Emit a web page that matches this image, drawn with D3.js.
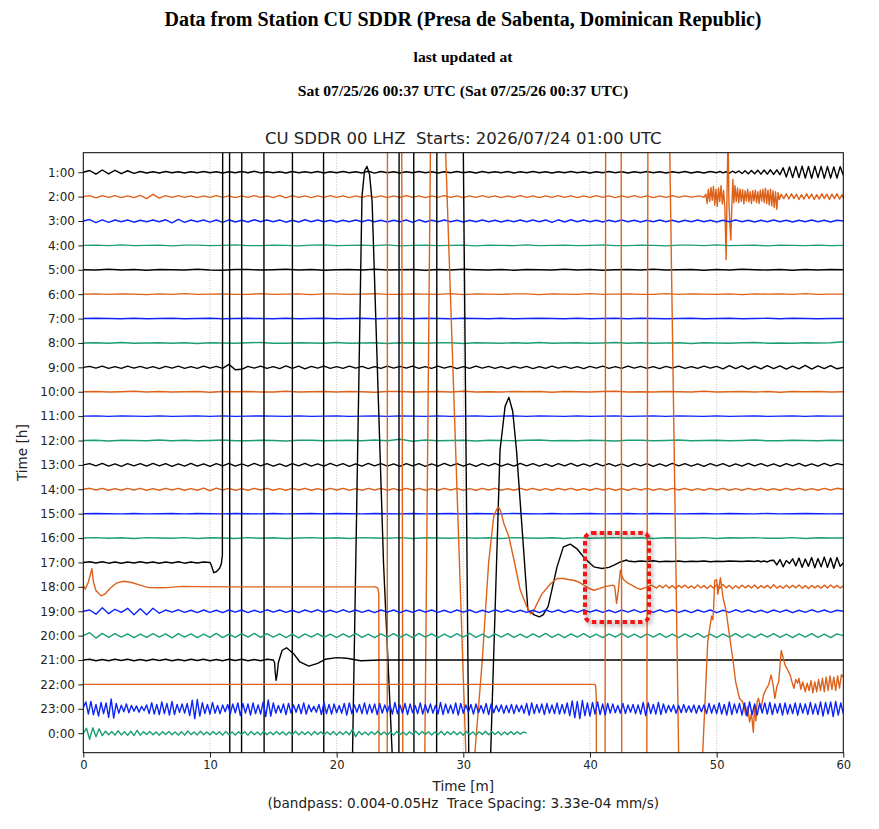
<!DOCTYPE html>
<html><head><meta charset="utf-8">
<script src="https://cdn.jsdelivr.net/npm/d3@7"></script>
<style>body{margin:0;background:#fff}svg{display:block}text{white-space:pre}</style>
</head><body>
<script>
// ---------- DATA ----------
const hourLabels = ["1:00","2:00","3:00","4:00","5:00","6:00","7:00","8:00","9:00","10:00","11:00","12:00",
  "13:00","14:00","15:00","16:00","17:00","18:00","19:00","20:00","21:00","22:00","23:00","0:00"];
const traceColors = ["#000000","#dd6119","#0b24fb","#1b9e77"];
const xTicks = [0,10,20,30,40,50,60];
const gridMinutes = [10,20,30,40,50];
// amplitudes in hundredths of one trace spacing (positive = up)
const noise01 = [0,7,-8,9,-7,8,-6,6,-5,3, -3,2,-3,3,-2,2,-3,2,-2,3, -2,2,-3,2,-2,3,-2,4,-3,2, -2,2,-3,3,-2,2,-2,3,-3,2,
  -2,3,-2,2,-3,4,-4,3,-2,2, -3,2,-2,3,-2,2,-3,2,-2,3, -2,2,-3,3,-2,2,-2,3,-3,2, -2,3,-2,2,-3,2,-2,3,-2,2,
  -3,2,-2,3,-2,2,-3,2,-2,3, -2,2,-3,2,-2,3,-3,2,-3,3, -2];
const tail01 = [3,-3,2,-4,4,-3,5,-5,6,-6, 7,-6,8,-8,9,-8,10,-9,10,-10, 18,-20,22,-22,24,-22,25,-24,24,-25, 25,-22,24,-25,24,-24,22,-24,23,-12];
const noise02 = [0,4,-5,4,-3,4,-4,3,-4,5, -8,9,-6,4,-3,4,-3,3,-4,3, -3,4,-3,3,-4,3,-3,4,-3,3, -4,5,-5,4,-3,3,-4,3,-3,4,
  -3,3,-4,3,-3,4,-3,3,-4,3, -3,4,-3,3,-4,3,-3,4,-3,3, -4,3,-3,4,-3,3,-4,3,-3,4, -3,3,-4,3,-3,4,-3,3,-4,3,
  -3,4,-3,3,-4,3,-3,4,-3,3, -4,3,-3,4,-3,3,-2,2];
const event02 = [[48.75,2],[49.0,-3],[49.15,10],[49.25,-28],[49.35,30],[49.45,-20],[49.55,38],[49.65,-15],[49.75,42],[49.85,-35],
  [49.95,30],[50.05,-40],[50.15,35],[50.25,-20],[50.35,45],[50.45,-30],[50.55,25],[50.65,-45],[50.75,-258],[50.82,10],[50.9,250],
  [50.97,-20],[51.05,-120],[51.12,-178],[51.2,-40],[51.28,70],[51.36,-25],[51.45,45],[51.55,-20],[51.65,35],[51.75,-25],[51.85,30],
  [51.95,-20],[52.05,28],[52.15,-30],[52.25,24],[52.35,-18],[52.45,30],[52.55,-22],[52.65,20],[52.75,-28],[52.85,24],[52.95,-18],
  [53.05,26],[53.15,-24],[53.25,20],[53.35,-28],[53.45,26],[53.55,-18],[53.65,30],[53.75,-24],[53.85,34],[53.95,-28],[54.05,26],
  [54.15,-34],[54.25,30],[54.35,-38],[54.45,24],[54.55,-45],[54.65,20],[54.75,-52],[54.85,16],[54.95,-12],[55.1,10],[55.3,-8],
  [55.5,12],[55.7,-10],[55.9,12],[56.1,-8],[56.3,10],[56.5,-12],[56.7,8],[56.9,-10],[57.1,12],[57.3,-8],[57.5,10],[57.7,-12],
  [57.9,8],[58.1,-10],[58.3,12],[58.5,-8],[58.7,10],[58.9,-12],[59.1,10],[59.3,-8],[59.5,12],[59.7,-10],[59.9,8],[60,-6]];
const noise03 = [0,6,-7,5,-6,4,-3,4,-5,3, -3,4,-3,5,-8,7,-6,4,-3,4, -5,4,-6,5,-4,3,-4,5,-3,4, -3,4,-5,3,-4,5,-3,4,-3,3,
  -4,3,-3,4,-3,4,-3,3,-4,3, -3,4,-6,5,-4,3,-3,4,-3,3, -4,3,-3,4,-3,3,-4,3,-3,4, -3,4,-3,4,-6,5,-4,5,-3,4,
  -3,3,-4,3,-3,4,-3,3,-4,3, -3,4,-3,3,-4,3,-3,4,-3,3, -4,3,-3,4,-3,3,-4,3,-3,4, -3,3,-4,3,-3,4,-3,3,-4,3, 0];
const noise04 = [0,1,-1,2,-1,0,1,-2,1,1, -1,0,2,-1,-1,1,0,-2,1,2, -1,0,1,-1,2,-2,0,1,-1,0, 1,-2,1,0,-1,2,-1,0,1,-1,
  0,2,-1,-1,1,0,-2,1,1,-1, 2,-1,0,1,-2,1,0,-1,1,-1, 0];
const noise05 = [0,-1,2,-1,1,-2,1,0,-1,2, -1,-2,1,1,-1,0,2,-1,1,-2, 0,1,-1,2,-1,0,1,-2,1,-1, 2,0,-1,1,-2,1,0,-1,2,-1,
  1,-2,0,1,-1,2,-1,0,1,-2, 1,-1,2,0,-1,1,-2,1,-1,1, 0];
const noise06 = [0,1,-1,1,0,-2,1,-1,2,-1, 0,1,-1,-1,2,-1,0,1,-2,1, 1,-1,0,2,-1,-1,1,0,-1,2, -2,1,0,-1,1,1,-2,1,0,-1,
  2,-1,0,1,-1,-1,2,-1,1,0, -1,1,-2,1,0,1,-1,2,-1,0, 0];
const noise07 = [0,1,0,-1,1,-1,0,1,-1,0, 1,-1,0,1,0,-1,1,-1,0,1, -1,0,1,-1,0,1,-1,1,0,-1, 1,0,-1,1,-1,0,1,0,-1,1,
  -1,0,1,-1,1,0,-1,0,1,-1, 0,1,-1,0,1,-1,1,0,-1,0, 0];
const noise08 = [0,1,-1,2,-1,0,1,-1,1,-2, 1,0,-1,1,2,-1,-1,1,0,-1, 2,-1,0,1,-2,1,0,-1,1,1, -2,1,0,-1,1,-1,2,-1,0,1,
  -1,0,2,-1,1,-1,0,1,-2,1, 0,-1,1,2,-1,0,-1,1,0,1, 5];
const noise09 = [0,4,-3,5,-4,3,-4,5,-3,4, -4,3,-5,4,-3,5,-4,3,-4,5, -3,4,-4,12,-10,-8,4,-3,5,-4, 3,-5,6,-4,5,-6,4,-3,5,-4,
  3,-4,5,-3,4,-5,3,-4,5,-3, 4,-3,5,-4,3,-4,5,-3,4,-5, 3,-4,5,-3,4,-4,3,-5,4,-3, 4,-5,3,-4,5,-3,4,-4,3,-5,
  4,-3,5,-4,3,-4,5,-3,4,-4, 3,-5,4,-3,5,-4,3,-4,5,-3, 4,-6,7,-5,6,-7,5,-6,7,-5, 6,-7,5,-6,8,-7,6,-5,7,-6, 0];
const noise10 = [0,1,-1,0,2,-1,1,-1,0,1, -2,1,0,1,-1,-1,2,-1,0,1, -1,1,0,-2,1,1,-1,0,1,-1, 2,-1,0,-1,1,0,1,-2,1,0,
  -1,1,2,-1,0,-1,1,0,-1,2, -1,0,1,-1,1,-2,1,0,1,-1, 0];
const noise11 = [0,1,-1,1,0,-1,1,-1,0,1, -1,1,-1,0,1,0,-1,1,-1,0, 1,-1,0,1,-1,1,0,-1,1,-1, 0,1,-1,0,1,-1,1,0,-1,1,
  -1,0,1,-1,0,1,-1,1,0,-1, 1,-1,0,1,-1,0,1,-1,1,0, 0];
const noise12 = [0,1,-2,1,0,-1,2,-1,1,-1, 0,2,-1,-1,1,0,-2,1,1,-1, 0,1,-1,2,-1,5,-3,2,-1,0, 1,-2,1,0,-1,1,2,-1,0,-1,
  1,0,-2,1,1,-1,0,2,-1,0, 1,-1,0,2,-1,-1,1,0,-1,1, 0];
const noise13 = [0,5,-4,6,-5,4,-6,5,-4,5, -5,6,-4,5,-6,4,-5,6,-5,4, -6,5,-4,6,-5,4,-5,6,-4,5, -5,4,-6,5,-4,6,-5,4,-5,6,
  -4,5,-6,4,-5,6,-4,5,-5,4, -6,5,-4,5,-6,4,-5,6,-4,5, -5,4,-6,5,-4,6,-5,4,-5,6, -4,5,-5,4,-6,5,-4,6,-5,4,
  -5,6,-4,5,-5,4,-6,5,-4,5, -6,4,-5,6,-4,5,-5,4,-6,5, -4,5,-6,4,-5,6,-4,5,-5,4, -6,5,-4,6,-5,4,-5,6,-4,5, 0];
const noise14 = [0,4,-3,4,-4,3,-4,4,-3,4, -4,3,-4,4,-3,4,-4,3,-4,5, -6,5,-3,4,-4,3,-4,4,-3,4, -4,3,-4,4,-3,4,-4,3,-4,4,
  -3,4,-4,3,-4,4,-3,4,-4,3, -4,4,-3,4,-4,3,-4,4,-3,4, -4,3,-4,4,-3,4,-4,3,-4,4, -3,4,-4,3,-4,4,-3,4,-4,3,
  -4,4,-3,4,-4,3,-4,4,-3,4, -4,3,-4,4,-3,4,-4,3,-4,4, -3,4,-4,3,-4,4,-3,4,-4,3, -4,4,-3,4,-4,3,-4,4,-3,4, 0];
const noise15 = [0,1,0,-1,1,-1,0,1,-1,1, 0,-1,1,0,-1,1,-1,0,1,-1, 1,0,-1,1,0,-1,1,-1,0,1, -1,1,0,-1,1,0,-1,1,-1,0,
  1,-1,0,1,-1,1,0,-1,0,1, -1,1,0,-1,1,-1,0,1,0,-1, 0];
const noise16 = [0,2,-1,1,-2,2,0,-1,2,-2, 1,0,-2,2,-1,1,-2,0,2,-1, 1,-2,2,0,-1,2,-2,1,0,-1, 2,-1,1,-2,2,0,-1,1,-2,2,
  -1,0,2,-1,1,-2,1,0,-1,2, -2,1,0,2,-1,-1,2,-2,1,0, 0];
const pre17 = [0,3,-2,3,-3,2,-3,2,-2,3, -2,2,-3,2,-2,3,-3,2,-2,2, 0];
const event17 = [[10.1,-10],[10.3,-42],[10.5,-38],[10.75,-25],[10.9,-5],[10.98,30],[11.02,3000],[11.54,3000],[11.58,-3000],
  [12.48,-3000],[12.52,3000],[14.25,3000],[14.29,-3000],[16.48,-3000],[16.52,3000],[18.96,3000],[19.0,-3000],[20.2,-3000],
  [21.25,-800],[22.0,1500],[22.2,1605],[22.4,1624],[22.6,1590],[22.8,1480],[23.7,0],[24.4,-800],[24.9,-3000],[24.94,3000],[26.08,3000],
  [26.12,-3000],[27.88,-3000],[27.92,3000],[29.7,3000],[30.0,1700],[30.45,-900],[30.7,-3000],[31.7,-3000],[32.15,-800],
  [32.9,460],[33.3,640],[33.6,677],[33.9,620],[34.2,460],[35.1,-195],[35.6,-215],[36.0,-223],[36.3,-215],[36.7,-180],
  [37.4,-18],[37.9,64],[38.45,75],[38.95,57],[39.6,16],[40.3,-18],[40.95,-25],[41.5,-20],[41.9,-11],[42.4,2],[42.9,10]];
const post17a = [6,3,6,4,7,3,5,4,6,3, 5,4,6,3,5,4,6,5,4,6];
const post17b = [4,7,3,6,2,8,9,-10,12,-18,8,-4,15,-14,18,-20,14,-16,20,-22,16,-18,22,-20,18,-24,20,-16,-2];
const event18 = [[0,7],[0.15,-10],[0.4,20],[0.68,75],[0.8,20],[1.0,-15],[1.4,-37],[1.7,-30],[2.1,-7],[2.6,15],[3.2,23],
  [3.8,18],[4.3,10],[4.8,2],[5.2,-3],[6.0,-4],[6.6,-3],[7.3,0],[7.9,2],[9,1],[12,0],[16,0],[20,0],[23.05,0],[23.25,-5],
  [23.33,-30],[23.4,-3000],[23.98,-3000],[24.02,3000],[25.1,3000],[25.3,-3000],[26.55,-3000],[27.62,3000],[27.82,3000],
  [28.6,1790],[30.2,-680],[30.55,-1200],[30.9,-690],[31.5,-300],[32.0,100],[32.4,287],[32.65,320],[32.8,326],[32.95,310],
  [33.2,260],[33.6,205],[34.0,110],[34.5,-14],[35.0,-80],[35.3,-110],[35.5,-105],[35.7,-82],[36.2,-30],[36.9,14],[37.4,34],
  [37.9,34],[38.3,30],[38.7,27],[39.1,20],[39.5,7],[39.9,-5],[40.3,-14],[40.7,-8],[41.1,0],[41.5,4],[41.8,7],[41.95,2],
  [42.1,-68],[42.25,-10],[42.4,68],[42.55,40],[42.7,27],[43.0,15],[43.3,7],[43.7,-5],[44.0,-10],[44.4,-3],[44.8,7]];
const post18 = [3,-5,6,-4,8,-6,5,-7,6,-3, 7,-5,4,-6,8,-4,5,-7,6,-5, 9,-6,10,-4,6,-8,5,-6,7,-4, 6,-5,8,-7,5,-4,6,-6,9,-5,
  4,-6,7,-5,6,-4,8,-6,5,-7, 6,-4,5,-6,7,-5,8,-4,6,-5, 4];
const noise19 = [0,5,-12,14,-10,8,-5,12,-14,10, -14,12,-8,5,-4,6,-5,4,-6,5, -5,4,-6,5,-4,5,-6,4,-5,6, -4,5,-5,4,-6,5,-4,6,-5,4,
  -5,6,-4,5,-5,4,-6,5,-4,5, -6,4,-5,6,-4,5,-5,4,-6,5, -4,5,-6,4,-5,6,-4,5,-5,4, -5,4,-6,5,-4,5,-6,4,-5,6,
  -4,5,-5,4,-6,5,-4,6,-5,4, -5,6,-4,5,-5,4,-6,5,-4,5, -6,4,-5,6,-4,5,-5,4,-6,5, -4,5,-6,4,-5,6,-4,5,-5,4, 0];
const noise20 = [0,12,-10,9,-7,8,-6,7,-8,6, -7,8,-6,7,-9,8,-6,7,-8,6, -7,9,-8,6,-7,8,-6,9,-7,8, -6,7,-8,6,-9,7,-6,8,-7,6,
  -8,7,-6,9,-7,6,-8,7,-6,8, -7,6,-8,9,-6,7,-8,6,-7,8, -6,9,-7,6,-8,7,-6,8,-7,6, -8,7,-6,9,-7,6,-8,7,-6,8,
  -7,6,-8,7,-6,9,-7,6,-8,7, -6,8,-7,6,-8,7,-6,9,-7,6, -8,7,-6,8,-7,6,-8,7,-6,8, -7,6,-8,7,-6,8,-7,6,-8,7, 0];
const pre21 = [0,3,-3,2,-3,3,-2,3,-3,2, -3,3,-2,3,-3,2,-3,3,-2,3, -3,2,-3,3,-2,3,-3,2,-3,3, 0];
const event21 = [[15.1,-10],[15.15,-49],[15.22,-83],[15.3,-60],[15.4,-10],[15.7,40],[16.05,50],[16.6,26],[17.1,-8],
  [17.8,-25],[18.5,-14],[19.1,3],[20.0,10],[20.8,7],[21.9,-3],[23.4,0],[60,0]];
const event22 = [[0,0],[40.35,0],[40.45,-5],[40.5,-60],[40.6,-3000],[41.15,-3000],[41.25,3000],[42.45,3000],[42.55,-3000],
  [44.4,-3000],[44.6,3000],[46.07,3000],[47.0,-281],[47.4,-1200],[48.0,-1500],[48.55,-800],[48.9,-281],[49.3,177],[49.6,280],
  [49.7,265],[49.75,300],[49.85,426],[50.0,430],[50.1,370],[50.3,437],[50.5,357],[50.75,300],[51.0,205],[51.3,95],[51.5,11],
  [51.8,-57],[52.05,-71],[52.2,-100],[52.3,-126],[52.45,-90],[52.6,-154],[52.75,-120],[52.9,-196],[53.0,-85],[53.1,-150],
  [53.2,-70],[53.3,-57],[53.5,-100],[53.7,-43],[53.9,-20],[54.1,-2],[54.3,39],[54.45,0],[54.6,-57],[54.75,-10],[54.9,10],
  [55.1,139],[55.25,110],[55.4,80],[55.6,60],[55.8,39],[55.95,10],[56.1,-16],[56.25,20],[56.4,5],[56.5,25],[56.65,-20],
  [56.8,10],[57.0,-30],[57.15,5],[57.3,-25],[57.45,15],[57.6,-35],[57.75,10],[57.9,-30],[58.05,20],[58.2,-25],[58.35,25],
  [58.5,-30],[58.65,30],[58.8,-25],[58.95,35],[59.1,-20],[59.25,30],[59.4,-25],[59.55,35],[59.7,-15],[59.85,40],[60,30]];
const noise23 = [5,28,-22,30,-25,18,-30,26,-20,24, -35,40,-38,22,-18,15,-12,20,-16,14, -10,12,-14,10,-8,16,-20,25,-22,18,
  -24,28,-20,22,-26,30,-24,18,-14,20, -18,22,-28,35,-40,38,-30,25,-20,18, -22,26,-18,14,-20,16,-12,18,-22,20,
  -16,24,-28,22,-18,20,-26,24,-20,16, -22,28,-32,36,-30,24,-18,14,-16,20, -24,22,-18,16,-14,18,-20,24,-22,16,
  -12,10,-14,18,-24,26,-20,18,-22,20, -16,14,-18,22,-26,24,-20,16,-14,18, -20,24,-22,18,-16,20,-24,22,-18,16,
  -14,18,-22,26,-20,16,-18,22,-24,20, -16,14,-20,24,-22,18,-16,20,-18,14, -22,26,-24,20,-18,16,-20,24,-26,22,
  -18,16,-14,18,-22,20,-16,14,-18,22, -24,20,-16,14,-12,16,-18,14,-16,18, -20,16,-12,14,-18,22,-26,24,-20,18,
  -16,20,-24,22,-18,16,-20,24,-22,18, -20,24,-28,32,-36,30,-40,34,-28,24, -30,26,-22,28,-24,20,-26,22,-18,20,
  -16,14,-18,22,-20,16,-14,18,-20,16, -22,26,-28,24,-20,18,-22,26,-24,20, -16,14,-12,16,-18,14,-16,18,-14,12,
  -14,16,-18,14,-12,16,-20,22,-18,16, -20,24,-22,18,-26,28,-24,20,-18,22, -26,24,-30,28,-24,20,-26,22,-18,24,
  -22,26,-24,20,-18,22,-26,24,-22,18, -20,24,-26,22,-18,20,-24,26,-22,20, -24,28,-30,26,-22,28,-32,30,-26,24, -20];
const noise24 = [0,20,-25,22,-15,18,-10,8,-6,7, -8,10,-7,6,-9,8,-10,12,-8,6, -5,7,-6,5,-8,6,-5,7,-6,5, -7,6,-8,9,-6,5,-7,8,-6,5,
  -6,7,-5,6,-8,7,-6,5,-7,6, -5,6,-8,7,-6,5,-7,8,-6,5, -6,7,-5,6,-7,5,-6,8,-7,6, -5,6,-8,7,-5,6,-7,5,-6,7,
  -8,6,-5,7,-6,16,-14,7,-6,5, -7,6,-5,8,-6,5,-7,6,-8,7, -6,5,-7,6,-5,8,-6,7,-5,6, -7,5,-6,8,-7,6,-5,7,-6,5,
  -8,7,-6,5,-7,6,-5,8,-6,7, -5,6,-7,5,-6,7,-5,6,-4,5, 0];
// red highlight box: [minute from, minute to, row from, row to]
const highlightBox = [39.61, 44.66, 14.79, 18.44];

// ---------- BUILD ----------
const reg = (start, step, vals) => vals.map((v, i) => [start + i * step, v]);
const traces = [
  [...reg(0,0.5,noise01), ...reg(50.25,0.25,tail01)],
  [...reg(0,0.5,noise02), ...event02],
  reg(0,0.5,noise03),
  reg(0,1,noise04), reg(0,1,noise05), reg(0,1,noise06), reg(0,1,noise07), reg(0,1,noise08),
  reg(0,0.5,noise09),
  reg(0,1,noise10), reg(0,1,noise11), reg(0,1,noise12),
  reg(0,0.5,noise13), reg(0,0.5,noise14),
  reg(0,1,noise15), reg(0,1,noise16),
  [...reg(0,0.5,pre17), ...event17, ...reg(43,0.5,post17a), ...reg(53,0.25,post17b)],
  [...event18, ...reg(45,0.25,post18)],
  reg(0,0.5,noise19), reg(0,0.5,noise20),
  [...reg(0,0.5,pre21), ...event21],
  event22,
  reg(0,0.2,noise23),
  reg(0,0.25,noise24)
];

const W = 879, H = 829;
const L = 83.3, R = 843.3, T = 152.7, B = 752.7;
const svg = d3.select("body").append("svg").attr("width", W).attr("height", H)
  .style("font-family", "'DejaVu Sans', sans-serif");
svg.append("rect").attr("width", W).attr("height", H).attr("fill", "#fff");

const x = d3.scaleLinear().domain([0, 60]).range([L, R]);
const y = d3.scaleLinear().domain([-0.8, 23.8]).range([T, B]);

// header texts
const serif = "'Liberation Serif', 'Times New Roman', serif";
svg.append("text").attr("x", 463).attr("y", 26).attr("text-anchor", "middle")
  .style("font-family", serif).style("font-weight", "bold").style("font-size", "20px")
  .text("Data from Station CU SDDR (Presa de Sabenta, Dominican Republic)");
svg.append("text").attr("x", 463).attr("y", 62).attr("text-anchor", "middle")
  .style("font-family", serif).style("font-weight", "bold").style("font-size", "15.6px")
  .text("last updated at");
svg.append("text").attr("x", 463).attr("y", 96).attr("text-anchor", "middle")
  .style("font-family", serif).style("font-weight", "bold").style("font-size", "15.6px")
  .text("Sat 07/25/26 00:37 UTC (Sat 07/25/26 00:37 UTC)");
svg.append("text").attr("x", (L + R) / 2).attr("y", 144).attr("text-anchor", "middle")
  .style("font-size", "16.5px").attr("fill", "#222")
  .text("CU SDDR 00 LHZ  Starts: 2026/07/24 01:00 UTC");

// grid
svg.append("g").selectAll("line").data(gridMinutes).join("line")
  .attr("x1", d => x(d)).attr("x2", d => x(d)).attr("y1", T).attr("y2", B)
  .attr("stroke", "#b0b0b0").attr("stroke-width", 0.8).attr("stroke-dasharray", "1,1.6");

// clip
svg.append("clipPath").attr("id", "plotclip").append("rect")
  .attr("x", L).attr("y", T).attr("width", R - L).attr("height", B - T);

const g = svg.append("g").attr("clip-path", "url(#plotclip)");
traces.forEach((pts, i) => {
  g.append("path")
    .attr("d", d3.line().x(d => x(d[0])).y(d => y(i - d[1] / 100))(pts))
    .attr("fill", "none").attr("stroke", traceColors[i % 4])
    .attr("stroke-width", 1.4).attr("stroke-linejoin", "round");
});

// highlight box with shadow
const defs = svg.append("defs");
const f = defs.append("filter").attr("id", "shadow").attr("x", "-30%").attr("y", "-30%").attr("width", "160%").attr("height", "160%");
f.append("feGaussianBlur").attr("in", "SourceAlpha").attr("stdDeviation", 2.2).attr("result", "b");
f.append("feOffset").attr("in", "b").attr("dx", 1.5).attr("dy", 1.5).attr("result", "o");
f.append("feComponentTransfer").attr("in", "o").attr("result", "s")
  .append("feFuncA").attr("type", "linear").attr("slope", 0.4);
const fm = f.append("feMerge");
fm.append("feMergeNode").attr("in", "s");
fm.append("feMergeNode").attr("in", "SourceGraphic");
svg.append("rect")
  .attr("x", x(highlightBox[0])).attr("y", y(highlightBox[2]))
  .attr("width", x(highlightBox[1]) - x(highlightBox[0]))
  .attr("height", y(highlightBox[3]) - y(highlightBox[2]))
  .attr("rx", 7).attr("ry", 7).attr("fill", "none")
  .attr("stroke", "#f21212").attr("stroke-width", 4).attr("stroke-dasharray", "4.5,3.2")
  .attr("filter", "url(#shadow)");

// frame
svg.append("rect").attr("x", L).attr("y", T).attr("width", R - L).attr("height", B - T)
  .attr("fill", "none").attr("stroke", "#000").attr("stroke-width", 1);

// axes
const yAxis = svg.append("g").attr("transform", `translate(${L},0)`)
  .call(d3.axisLeft(y).tickValues(d3.range(24)).tickFormat(i => hourLabels[i]).tickSize(4.9).tickPadding(3.5));
yAxis.select(".domain").remove();
yAxis.selectAll("text").style("font-size", "12px").style("font-family", "'DejaVu Sans', sans-serif").attr("fill", "#222");
yAxis.selectAll("line").attr("stroke", "#000").attr("stroke-width", 0.9);

const xAxis = svg.append("g").attr("transform", `translate(0,${B})`)
  .call(d3.axisBottom(x).tickValues(xTicks).tickFormat(d3.format("d")).tickSize(4.9).tickPadding(3.5));
xAxis.select(".domain").remove();
xAxis.selectAll("text").style("font-size", "11.5px").style("font-family", "'DejaVu Sans', sans-serif").attr("fill", "#222");
xAxis.selectAll("line").attr("stroke", "#000").attr("stroke-width", 0.9);

svg.append("text").attr("transform", `translate(27,${(T + B) / 2}) rotate(-90)`).attr("text-anchor", "middle")
  .style("font-size", "13.6px").attr("fill", "#222").text("Time [h]");
svg.append("text").attr("x", (L + R) / 2).attr("y", 791).attr("text-anchor", "middle")
  .style("font-size", "13.6px").attr("fill", "#222").text("Time [m]");
svg.append("text").attr("x", (L + R) / 2).attr("y", 808).attr("text-anchor", "middle")
  .style("font-size", "13.6px").attr("fill", "#222").text("(bandpass: 0.004-0.05Hz  Trace Spacing: 3.33e-04 mm/s)");
</script>
</body></html>
